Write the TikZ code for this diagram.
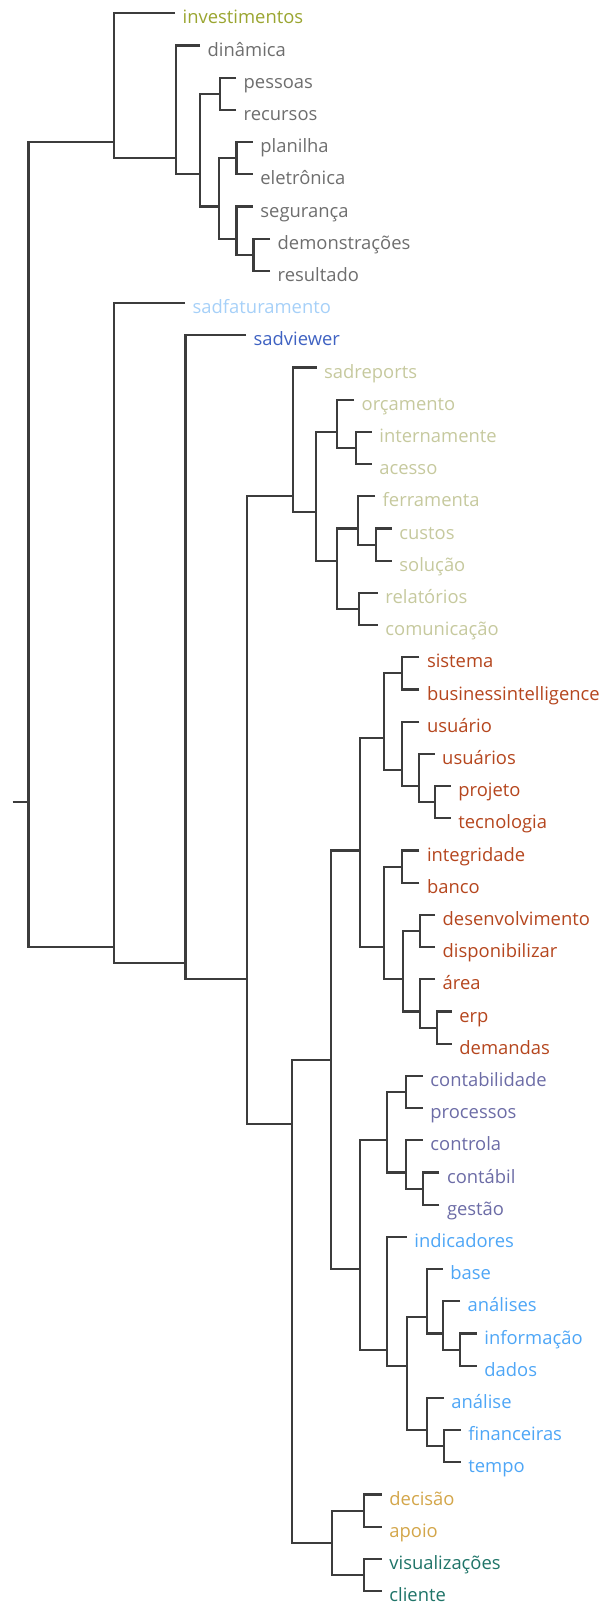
\documentclass[tikz,border=0pt]{standalone}
\usepackage{fontspec}
\setmainfont{Open Sans}
\definecolor{colOlive}{HTML}{9AA530}
\definecolor{colGray}{HTML}{6E6E6E}
\definecolor{colLBlue}{HTML}{A6D0F8}
\definecolor{colBlue}{HTML}{3F62C2}
\definecolor{colKhaki}{HTML}{C6C99E}
\definecolor{colRust}{HTML}{B5461E}
\definecolor{colSlate}{HTML}{6C6CA6}
\definecolor{colSky}{HTML}{4EA6F6}
\definecolor{colGold}{HTML}{D3A64A}
\definecolor{colTeal}{HTML}{1F7468}
\definecolor{colLine}{HTML}{3C3C3C}
\newcommand\myleaf[4]{%
  \coordinate (L#1) at (#2,{13.3+32.2*#1});
  \node[word, text=#3] (t#1) at ({#2+7.5},{23.9+32.2*#1}) {#4};}
\newcommand\mynode[3]{\coordinate (#1) at (#2,{13.3+32.2*#3});}
\newcommand\mybr[3]{\draw[branch] (#2) -| (#1); \draw[branch] (#3) -| (#1);}
\begin{document}
\begin{tikzpicture}[x=1pt,y=-1pt,
  word/.style={anchor=base west, inner sep=0pt, font=\fontsize{18.4}{20}\selectfont},
  branch/.style={draw=colLine, line width=2.1pt}]
\useasboundingbox (0,0) rectangle (600,1608);
% leaves
\myleaf{0}{175}{colOlive}{investimentos}
\myleaf{1}{200}{colGray}{dinâmica}
\myleaf{2}{236}{colGray}{pessoas}
\myleaf{3}{236}{colGray}{recursos}
\myleaf{4}{252.7}{colGray}{planilha}
\myleaf{5}{252.7}{colGray}{eletrônica}
\myleaf{6}{252.7}{colGray}{segurança}
\myleaf{7}{270}{colGray}{demonstrações}
\myleaf{8}{270}{colGray}{resultado}
\myleaf{9}{185}{colLBlue}{sadfaturamento}
\myleaf{10}{246}{colBlue}{sadviewer}
\myleaf{11}{316.5}{colKhaki}{sadreports}
\myleaf{12}{354}{colKhaki}{orçamento}
\myleaf{13}{371.7}{colKhaki}{internamente}
\myleaf{14}{371.7}{colKhaki}{acesso}
\myleaf{15}{375}{colKhaki}{ferramenta}
\myleaf{16}{391.7}{colKhaki}{custos}
\myleaf{17}{391.7}{colKhaki}{solução}
\myleaf{18}{377.7}{colKhaki}{relatórios}
\myleaf{19}{377.7}{colKhaki}{comunicação}
\myleaf{20}{419.3}{colRust}{sistema}
\myleaf{21}{419.3}{colRust}{businessintelligence}
\myleaf{22}{419.3}{colRust}{usuário}
\myleaf{23}{434.5}{colRust}{usuários}
\myleaf{24}{450.7}{colRust}{projeto}
\myleaf{25}{450.7}{colRust}{tecnologia}
\myleaf{26}{419.3}{colRust}{integridade}
\myleaf{27}{419.3}{colRust}{banco}
\myleaf{28}{435}{colRust}{desenvolvimento}
\myleaf{29}{435}{colRust}{disponibilizar}
\myleaf{30}{435}{colRust}{área}
\myleaf{31}{451.7}{colRust}{erp}
\myleaf{32}{451.7}{colRust}{demandas}
\myleaf{33}{422.7}{colSlate}{contabilidade}
\myleaf{34}{422.7}{colSlate}{processos}
\myleaf{35}{422.7}{colSlate}{controla}
\myleaf{36}{439.3}{colSlate}{contábil}
\myleaf{37}{439.3}{colSlate}{gestão}
\myleaf{38}{406.7}{colSky}{indicadores}
\myleaf{39}{442.7}{colSky}{base}
\myleaf{40}{460}{colSky}{análises}
\myleaf{41}{476.7}{colSky}{informação}
\myleaf{42}{476.7}{colSky}{dados}
\myleaf{43}{443.7}{colSky}{análise}
\myleaf{44}{460.7}{colSky}{financeiras}
\myleaf{45}{460.7}{colSky}{tempo}
\myleaf{46}{381.7}{colGold}{decisão}
\myleaf{47}{381.7}{colGold}{apoio}
\myleaf{48}{381.7}{colTeal}{visualizações}
\myleaf{49}{381.7}{colTeal}{cliente}
% internal nodes
\mynode{root}{28.5}{24.5}
\coordinate (stub) at (12.7,{13.3+32.2*24.5});
\mynode{A}{114.3}{4}
\mynode{B}{176}{4.5}
\mynode{C}{200}{5}
\mynode{D}{220}{2.5}
\mynode{E}{219.3}{6}
\mynode{F}{236.5}{4.5}
\mynode{G}{236.5}{7}
\mynode{H}{253.5}{7.5}
\mynode{R1}{114}{29}
\mynode{R2}{185.5}{29.5}
\mynode{R3}{246.7}{30}
\mynode{S1}{293}{15}
\mynode{S2}{316}{15.5}
\mynode{S3}{337.3}{13}
\mynode{S4}{356}{13.5}
\mynode{S5}{337.3}{17}
\mynode{S6}{358.3}{16}
\mynode{S7}{376}{16.5}
\mynode{S8}{359.3}{18.5}
\mynode{T1}{292.3}{34.5}
\mynode{T2}{331}{32.5}
\mynode{U1}{360}{26}
\mynode{U2}{384}{22.5}
\mynode{U3}{401.7}{20.5}
\mynode{U4}{401.7}{23.5}
\mynode{U5}{419.3}{24}
\mynode{U5b}{435}{24.5}
\mynode{U6}{384}{29}
\mynode{U7}{401.7}{26.5}
\mynode{U8}{403.3}{30}
\mynode{U9}{420}{28.5}
\mynode{U10}{420}{31}
\mynode{U11}{436.7}{31.5}
\mynode{V1}{360}{39}
\mynode{V2}{386.7}{35}
\mynode{V3}{406}{33.5}
\mynode{V4}{406}{36}
\mynode{V4b}{422.7}{36.5}
\mynode{V5}{386.7}{41.5}
\mynode{V6}{406.7}{42}
\mynode{V7}{426.7}{40.5}
\mynode{V8}{443.3}{41}
\mynode{V8b}{460}{41.5}
\mynode{V9}{426.7}{44}
\mynode{V10}{444.3}{44.5}
\mynode{W1}{331.7}{47.5}
\mynode{W2}{364}{46.5}
\mynode{W3}{364}{48.5}
% branches
\draw[branch] (stub) -- (root);
\mybr{root}{A}{R1}
\mybr{A}{L0}{B}
\mybr{B}{L1}{C}
\mybr{C}{D}{E}
\mybr{D}{L2}{L3}
\mybr{E}{F}{G}
\mybr{F}{L4}{L5}
\mybr{G}{L6}{H}
\mybr{H}{L7}{L8}
\mybr{R1}{L9}{R2}
\mybr{R2}{L10}{R3}
\mybr{R3}{S1}{T1}
\mybr{S1}{L11}{S2}
\mybr{S2}{S3}{S5}
\mybr{S3}{L12}{S4}
\mybr{S4}{L13}{L14}
\mybr{S5}{S6}{S8}
\mybr{S6}{L15}{S7}
\mybr{S7}{L16}{L17}
\mybr{S8}{L18}{L19}
\mybr{T1}{T2}{W1}
\mybr{T2}{U1}{V1}
\mybr{U1}{U2}{U6}
\mybr{U2}{U3}{U4}
\mybr{U3}{L20}{L21}
\mybr{U4}{L22}{U5}
\mybr{U5}{L23}{U5b}
\mybr{U5b}{L24}{L25}
\mybr{U6}{U7}{U8}
\mybr{U7}{L26}{L27}
\mybr{U8}{U9}{U10}
\mybr{U9}{L28}{L29}
\mybr{U10}{L30}{U11}
\mybr{U11}{L31}{L32}
\mybr{V1}{V2}{V5}
\mybr{V2}{V3}{V4}
\mybr{V3}{L33}{L34}
\mybr{V4}{L35}{V4b}
\mybr{V4b}{L36}{L37}
\mybr{V5}{L38}{V6}
\mybr{V6}{V7}{V9}
\mybr{V7}{L39}{V8}
\mybr{V8}{L40}{V8b}
\mybr{V8b}{L41}{L42}
\mybr{V9}{L43}{V10}
\mybr{V10}{L44}{L45}
\mybr{W1}{W2}{W3}
\mybr{W2}{L46}{L47}
\mybr{W3}{L48}{L49}
\end{tikzpicture}
\end{document}
